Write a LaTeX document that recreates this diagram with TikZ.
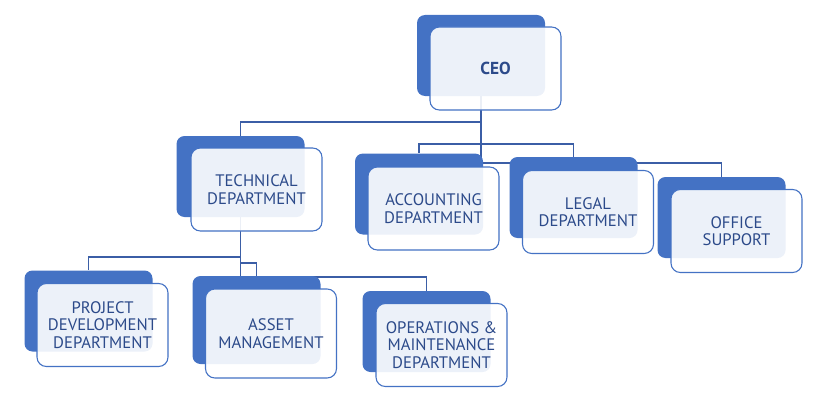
\documentclass[tikz,border=0pt]{standalone}
\usepackage{fontspec}
\setmainfont{PT Sans}
\usepackage{tikz}
\usetikzlibrary{shapes.geometric, arrows, positioning, calc, backgrounds}
\definecolor{BoxBlue}{HTML}{4472C4}
\definecolor{TextBlue}{HTML}{2C4A8A}
\definecolor{LineBlue}{HTML}{3B5EA6}
\begin{document}
\begin{tikzpicture}[x=0.75pt,y=-0.75pt]
		\tikzset{BoxBack/.style = {fill=BoxBlue, rounded corners=6pt, minimum width=96pt, minimum height=60.75pt, inner sep=0pt}}
		\tikzset{BoxFront/.style = {draw=BoxBlue, line width=0.8pt, fill=white, fill opacity=0.9, text opacity=1, text=TextBlue, rounded corners=7pt, minimum width=98.25pt, minimum height=62.25pt, inner sep=0pt, align=center, font=\fontsize{12.5}{13.2}\selectfont}}
		\tikzset{LinkStyle/.style = {draw=LineBlue, line width=0.8pt}}
		\useasboundingbox (0,0) rectangle (824,410);
		
		\node[BoxBack] (CEOb) at (481,55.5) {};
		\node[BoxFront,font=\fontsize{13}{14}\selectfont\bfseries] (CEO) at (495.5,68.5) {CEO};
		
		\node[BoxBack] (TDb) at (240.5,176.5) {};
		\node[BoxFront] (TD) at (256.5,189.5) {TECHNICAL\\DEPARTMENT};
		\node[BoxBack] (ADb) at (419,194) {};
		\node[BoxFront] (AD) at (433.5,208.5) {ACCOUNTING\\DEPARTMENT};
		\node[BoxBack] (LDb) at (573.5,197.5) {};
		\node[BoxFront] (LD) at (588,212) {LEGAL\\DEPARTMENT};
		\node[BoxBack] (OSb) at (721.5,217.5) {};
		\node[BoxFront] (OS) at (736.5,231) {OFFICE\\SUPPORT};
		
		\node[BoxBack] (PDb) at (88.5,311) {};
		\node[BoxFront] (PD) at (102.5,325) {PROJECT\\DEVELOPMENT\\DEPARTMENT};
		\node[BoxBack,minimum height=66pt] (AMb) at (256.5,320) {};
		\node[BoxFront,minimum height=66.75pt] (AM) at (271,333.5) {ASSET\\MANAGEMENT};
		\node[BoxBack] (OMb) at (426.5,331.5) {};
		\node[BoxFront] (OM) at (441.5,345) {OPERATIONS \&\\MAINTENANCE\\DEPARTMENT};
		
		%%%%%%%%%%%%%%%%%%%%%%%%%%%%%%
		
		\coordinate (L1) at (0,122);% bus levels
		\coordinate (L2) at (0,144);
		\coordinate (L3) at (0,163);
		\coordinate (L4) at (0,257);
		\coordinate (L5) at (0,263);
		\coordinate (L6) at (0,277);
		
		\begin{scope}[on background layer]
		\draw[LinkStyle] (CEOb.center) |- (TDb.north |- L1) -- (TDb.north);
		\draw[LinkStyle] (CEOb.center) |- (ADb.north |- L2) -- (ADb.north);
		\draw[LinkStyle] (CEOb.center) |- (LDb.north |- L2) -- (LDb.north);
		\draw[LinkStyle] (CEOb.center) |- (OSb.north |- L3) -- (OSb.north);
		
		\draw[LinkStyle] (TDb.center) |- (PDb.north |- L4) -- (PDb.north);
		\draw[LinkStyle] (TDb.center) |- (AMb.north |- L5) -- (AMb.north);
		\draw[LinkStyle] (TDb.center) |- (OMb.north |- L6) -- (OMb.north);
		\end{scope}
		
	\end{tikzpicture}
\end{document}
